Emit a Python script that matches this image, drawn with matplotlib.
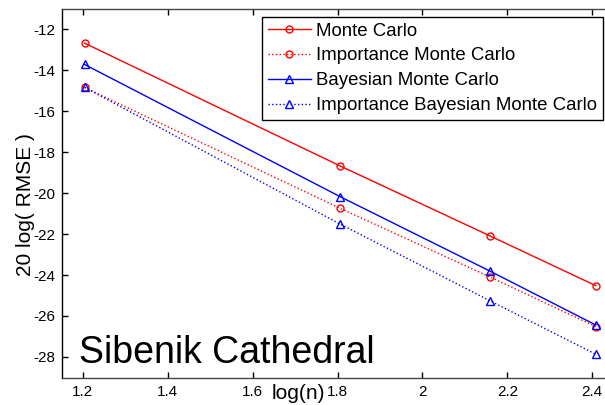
import numpy as np
import matplotlib
matplotlib.use("Agg")
import matplotlib.pyplot as plt

plt.rcParams['font.family'] = ['Liberation Sans', 'DejaVu Sans']
plt.rcParams['axes.unicode_minus'] = False

# log10 of sample counts n = 16, 64, 144, 256
log_n = np.log10([16, 64, 144, 256])

mc = [-12.67, -18.67, -22.08, -24.52]
imc = [-14.83, -20.74, -24.09, -26.52]
bmc = [-13.71, -20.17, -23.80, -26.44]
ibmc = [-14.83, -21.51, -25.25, -27.87]

labels = ["Monte Carlo", "Importance Monte Carlo",
          "Bayesian Monte Carlo", "Importance Bayesian Monte Carlo"]

fig = plt.figure(figsize=(6.05, 4.05), dpi=100)
ax = fig.add_axes([62 / 605, 27 / 405, 551.5 / 605, 369 / 405])

ax.plot(log_n, mc, '-', color='red', lw=1, marker='o', ms=5, mfc='none', mew=1, label=labels[0])
ax.plot(log_n, imc, ':', color='red', lw=1, marker='o', ms=5, mfc='none', mew=1, label=labels[1])
ax.plot(log_n, bmc, '-', color='blue', lw=1, marker='^', ms=5.5, mfc='none', mew=1, label=labels[2])
ax.plot(log_n, ibmc, ':', color='blue', lw=1, marker='^', ms=5.5, mfc='none', mew=1, label=labels[3])

ax.set_xlim(1.151, 2.45)
ax.set_ylim(-29.03, -11.0)
ax.set_xticks([1.2, 1.4, 1.6, 1.8, 2.0, 2.2, 2.4])
ax.set_xticklabels(['1.2', '1.4', '1.6', '1.8', '2', '2.2', '2.4'])
ax.set_yticks(np.arange(-28, -11, 2))
ax.tick_params(direction='in', length=4.5, width=1, labelsize=11, pad=5,
               top=True, right=True, color='black')
for s in ax.spines.values():
    s.set_color('#444444')
    s.set_linewidth(1)
ax.spines['left'].set_color('black')

ax.set_ylabel("20 log( RMSE )", fontsize=15)
ax.yaxis.set_label_coords(-0.049, 0.469)
ax.set_xlabel("log(n)", fontsize=15)
ax.xaxis.set_label_coords((298 - 62) / 551.5, -0.041)
ax.xaxis.label.set_va('center')

ax.text(1.191, -28.29, "Sibenik Cathedral", fontsize=27, ha='left', va='baseline')

leg = ax.legend(loc='upper right', bbox_to_anchor=(603 / 605, (405 - 17) / 405),
                bbox_transform=fig.transFigure, fontsize=13.4, frameon=True,
                fancybox=False, framealpha=1, edgecolor='black',
                handlelength=2.3, handletextpad=0.3, labelspacing=0.42,
                borderpad=0.3, borderaxespad=0)
leg.get_frame().set_linewidth(1)

fig.savefig("out.png", dpi=100)
